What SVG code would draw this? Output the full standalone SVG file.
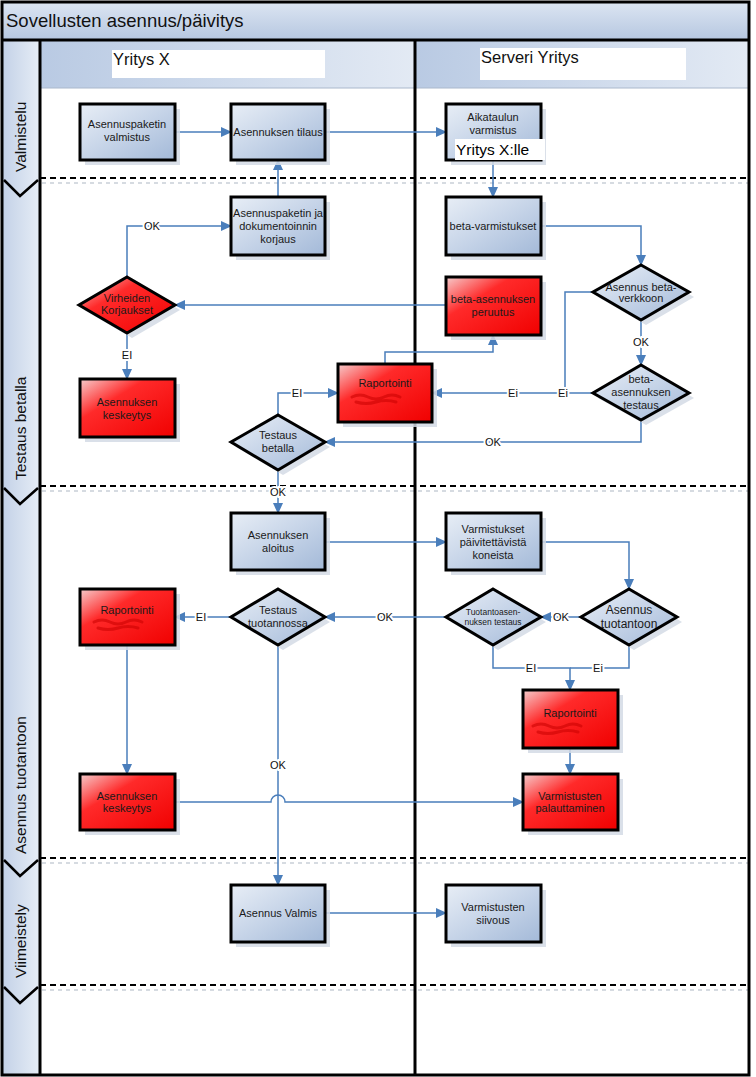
<svg xmlns="http://www.w3.org/2000/svg" width="756" height="1077" viewBox="0 0 756 1077">
<style>
.box{stroke:#000;stroke-width:3}
.blue{fill:url(#gb)}
.red{fill:url(#gr)}
.sh{fill:#d3dae5;opacity:.85}
.t{font-family:"Liberation Sans",Arial,sans-serif;font-size:11px;text-anchor:middle;fill:#1a1a1a}
.c{fill:none;stroke:#4a7ebb;stroke-width:1.5}
.lbl{font-family:"Liberation Sans",Arial,sans-serif;font-size:11px;text-anchor:middle;fill:#111;stroke:#fff;stroke-width:4;paint-order:stroke}
.dash{stroke:#000;stroke-width:2.2;stroke-dasharray:6 4}
.dash2{stroke:#c9cfd8;stroke-width:1.5;stroke-dasharray:4 4}
.lane{stroke:#000;stroke-width:3}
.ph{font-family:"Liberation Sans",Arial,sans-serif;font-size:15.5px;fill:#111}
.hd{font-family:"Liberation Sans",Arial,sans-serif;font-size:16.5px;fill:#111}
.scr{fill:none;stroke:#c80000;stroke-width:3;opacity:.55;stroke-linecap:round}
</style>
<defs>
<linearGradient id="gb" x1="0" y1="0" x2="1" y2="1">
<stop offset="0" stop-color="#e8eef6"/>
<stop offset="0.5" stop-color="#c6d4e8"/>
<stop offset="1" stop-color="#a3b9d8"/>
</linearGradient>
<linearGradient id="gr" x1="0" y1="0" x2="1" y2="1">
<stop offset="0" stop-color="#f6cccc"/>
<stop offset="0.35" stop-color="#ff2a2a"/>
<stop offset="1" stop-color="#f00000"/>
</linearGradient>
<linearGradient id="gt" x1="0" y1="0" x2="0" y2="1">
<stop offset="0" stop-color="#dce5f2"/>
<stop offset="1" stop-color="#b7c8e1"/>
</linearGradient>
<linearGradient id="gh" x1="0" y1="0" x2="1" y2="0">
<stop offset="0" stop-color="#b9cae3"/>
<stop offset="1" stop-color="#e3eaf4"/>
</linearGradient>
<linearGradient id="gp" x1="0" y1="0" x2="1" y2="0">
<stop offset="0" stop-color="#c3d1e7"/>
<stop offset="1" stop-color="#e6edf6"/>
</linearGradient>
<marker id="ar" markerUnits="userSpaceOnUse" markerWidth="11" markerHeight="10" refX="10" refY="5" orient="auto">
<path d="M0,0 L11,5 L0,10 z" fill="#4a7ebb"/>
</marker>
</defs>

<!-- frame -->
<g id="frame">
<rect x="0" y="0" width="756" height="1077" fill="#fff"/>
<rect x="2" y="2" width="747" height="37" fill="url(#gt)"/>
<text x="6" y="27" font-family="Liberation Sans,Arial,sans-serif" font-size="18.5" fill="#111">Sovellusten asennus/päivitys</text>
<rect x="2" y="40" width="38" height="1035" fill="url(#gp)"/>
<rect x="40" y="40" width="375" height="48" fill="url(#gh)"/>
<rect x="415" y="40" width="334" height="48" fill="url(#gh)"/>
<line x1="40" y1="88" x2="749" y2="88" stroke="#aab8cc" stroke-width="1"/>
<rect x="112" y="50" width="213" height="28" fill="#fff"/>
<text class="hd" x="113" y="65">Yritys X</text>
<rect x="480" y="48" width="206" height="32" fill="#fff"/>
<text class="hd" x="481" y="63">Serveri Yritys</text>
<line class="dash2" x1="42" y1="183" x2="749" y2="183"/>
<line class="dash2" x1="42" y1="491" x2="749" y2="491"/>
<line class="dash2" x1="42" y1="863" x2="749" y2="863"/>
<line class="dash2" x1="42" y1="990" x2="749" y2="990"/>
<line class="dash" x1="40" y1="178" x2="749" y2="178"/>
<line class="dash" x1="40" y1="486" x2="749" y2="486"/>
<line class="dash" x1="40" y1="858" x2="749" y2="858"/>
<line class="dash" x1="40" y1="985" x2="749" y2="985"/>
<polyline points="4,180 20,196 38,180" fill="none" stroke="#000" stroke-width="2.5"/>
<polyline points="4,488 20,504 38,488" fill="none" stroke="#000" stroke-width="2.5"/>
<polyline points="4,860 20,876 38,860" fill="none" stroke="#000" stroke-width="2.5"/>
<polyline points="4,987 20,1003 38,987" fill="none" stroke="#000" stroke-width="2.5"/>
<text class="ph" transform="translate(26,172) rotate(-90)">Valmistelu</text>
<text class="ph" transform="translate(26,480) rotate(-90)">Testaus betalla</text>
<text class="ph" transform="translate(26,854) rotate(-90)">Asennus tuotantoon</text>
<text class="ph" transform="translate(26,978) rotate(-90)">Viimeistely</text>
<line class="lane" x1="40" y1="40" x2="40" y2="1075"/>
<line class="lane" x1="415" y1="40" x2="415" y2="1075"/>
<line class="lane" x1="2" y1="40" x2="749" y2="40"/>
<rect x="2" y="2" width="747" height="1073" fill="none" stroke="#000" stroke-width="3"/>
</g>

<!-- connectors -->
<g id="connectors">
<path class="c" marker-end="url(#ar)" d="M175,132 H231"/>
<path class="c" marker-end="url(#ar)" d="M325,132 H446"/>
<path class="c" marker-end="url(#ar)" d="M493,160 V197"/>
<path class="c" marker-end="url(#ar)" d="M278,197 V160"/>
<path class="c" marker-end="url(#ar)" d="M127,277 V226 H231"/>
<path class="c" marker-end="url(#ar)" d="M541,226 H641 V265"/>
<path class="c" marker-end="url(#ar)" d="M446,305 H175"/>
<path class="c" marker-end="url(#ar)" d="M127,333 V379"/>
<path class="c" marker-end="url(#ar)" d="M641,320 V365"/>
<path class="c" marker-end="url(#ar)" d="M593,393 H432"/>
<path class="c" d="M593,292 H565 V393"/>
<path class="c" marker-end="url(#ar)" d="M385,364 V352 H493 V335"/>
<path class="c" marker-end="url(#ar)" d="M278,415 V393 H338"/>
<path class="c" marker-end="url(#ar)" d="M641,420 V442 H325"/>
<path class="c" marker-end="url(#ar)" d="M278,470 V513"/>
<path class="c" marker-end="url(#ar)" d="M325,542 H446"/>
<path class="c" marker-end="url(#ar)" d="M541,542 H629 V589"/>
<path class="c" marker-end="url(#ar)" d="M581,617 H541"/>
<path class="c" marker-end="url(#ar)" d="M446,617 H325"/>
<path class="c" marker-end="url(#ar)" d="M231,617 H175"/>
<path class="c" marker-end="url(#ar)" d="M493,645 V668 H570 V690"/>
<path class="c" d="M629,645 V668 H570"/>
<path class="c" marker-end="url(#ar)" d="M570,748 V774"/>
<path class="c" marker-end="url(#ar)" d="M127,645 V774"/>
<path class="c" marker-end="url(#ar)" d="M175,802 H271 A7,7 0 0 1 285,802 H523"/>
<path class="c" marker-end="url(#ar)" d="M278,645 V885"/>
<path class="c" marker-end="url(#ar)" d="M325,913 H446"/>
<text class="lbl" x="152" y="230">OK</text>
<text class="lbl" x="127" y="359">EI</text>
<text class="lbl" x="641" y="346">OK</text>
<text class="lbl" x="513" y="397">Ei</text>
<text class="lbl" x="563" y="397">Ei</text>
<text class="lbl" x="297" y="397">EI</text>
<text class="lbl" x="493" y="446">OK</text>
<text class="lbl" x="278" y="496">OK</text>
<text class="lbl" x="561" y="621">OK</text>
<text class="lbl" x="385" y="621">OK</text>
<text class="lbl" x="201" y="621">EI</text>
<text class="lbl" x="531" y="672">EI</text>
<text class="lbl" x="598" y="672">Ei</text>
<text class="lbl" x="278" y="769">OK</text>
</g>

<g id="n1"><rect class="sh" x="85" y="109" width="95" height="56"/><rect class="box blue" x="80" y="104" width="95" height="56"/><text class="t" x="127" y="128">Asennuspaketin</text><text class="t" x="127" y="141">valmistus</text></g>
<g id="n2"><rect class="sh" x="236" y="109" width="94" height="56"/><rect class="box blue" x="231" y="104" width="94" height="56"/><text class="t" x="278" y="136">Asennuksen tilaus</text></g>
<g id="n3"><rect class="sh" x="451" y="109" width="95" height="56"/><rect class="box blue" x="446" y="104" width="95" height="56"/><text class="t" x="493" y="121">Aikataulun</text><text class="t" x="493" y="134">varmistus</text><rect x="455" y="139" width="90" height="21" fill="#fff"/><text x="456" y="155" font-family="Liberation Sans,Arial,sans-serif" font-size="15.5" fill="#000">Yritys X:lle</text></g>
<g id="n4"><rect class="sh" x="236" y="202" width="94" height="58"/><rect class="box blue" x="231" y="197" width="94" height="58"/><text class="t" x="278" y="217">Asennuspaketin ja</text><text class="t" x="278" y="230">dokumentoinnin</text><text class="t" x="278" y="243">korjaus</text></g>
<g id="n5"><rect class="sh" x="451" y="202" width="95" height="58"/><rect class="box blue" x="446" y="197" width="95" height="58"/><text class="t" x="493" y="230">beta-varmistukset</text></g>
<g id="n6"><polygon class="sh" points="132,282 180,310 132,338 84,310"/><polygon class="box red" points="127,277 175,305 127,333 79,305"/><text class="t" x="127" y="302">Virheiden</text><text class="t" x="127" y="314">Korjaukset</text></g>
<g id="n7"><rect class="sh" x="451" y="282" width="95" height="58"/><rect class="box red" x="446" y="277" width="95" height="58"/><text class="t" x="493" y="303">beta-asennuksen</text><text class="t" x="493" y="316">peruutus</text></g>
<g id="n8"><polygon class="sh" points="646,270 694,297 646,325 598,297"/><polygon class="box blue" points="641,265 689,292 641,320 593,292"/><text class="t" x="641" y="291">Asennus beta-</text><text class="t" x="641" y="302">verkkoon</text></g>
<g id="n9"><rect class="sh" x="343" y="369" width="94" height="58"/><rect class="box red" x="338" y="364" width="94" height="58"/><text class="t" x="385" y="387">Raportointi</text><path class="scr" d="M352,397 q8,-4 16,0 t16,0 t16,0 M356,402 q10,3 20,0 t20,0"/></g>
<g id="n10"><rect class="sh" x="85" y="384" width="95" height="58"/><rect class="box red" x="80" y="379" width="95" height="58"/><text class="t" x="127" y="406">Asennuksen</text><text class="t" x="127" y="419">keskeytys</text></g>
<g id="n11"><polygon class="sh" points="646,370 694,398 646,425 598,398"/><polygon class="box blue" points="641,365 689,393 641,420 593,393"/><text class="t" x="641" y="383">beta-</text><text class="t" x="641" y="396">asennuksen</text><text class="t" x="641" y="409">testaus</text></g>
<g id="n12"><polygon class="sh" points="283,420 330,447 283,475 236,447"/><polygon class="box blue" points="278,415 325,442 278,470 231,442"/><text class="t" x="278" y="439">Testaus</text><text class="t" x="278" y="452">betalla</text></g>
<g id="n13"><rect class="sh" x="236" y="518" width="94" height="57"/><rect class="box blue" x="231" y="513" width="94" height="57"/><text class="t" x="278" y="539">Asennuksen</text><text class="t" x="278" y="552">aloitus</text></g>
<g id="n14"><rect class="sh" x="451" y="518" width="95" height="57"/><rect class="box blue" x="446" y="513" width="95" height="57"/><text class="t" x="493" y="533">Varmistukset</text><text class="t" x="493" y="546">päivitettävistä</text><text class="t" x="493" y="559">koneista</text></g>
<g id="n15"><rect class="sh" x="85" y="594" width="95" height="56"/><rect class="box red" x="80" y="589" width="95" height="56"/><text class="t" x="127" y="614">Raportointi</text><path class="scr" d="M94,622 q8,-4 16,0 t16,0 t16,0 M98,628 q10,3 20,0 t20,0"/></g>
<g id="n16"><polygon class="sh" points="283,594 330,622 283,650 236,622"/><polygon class="box blue" points="278,589 325,617 278,645 231,617"/><text class="t" x="278" y="614">Testaus</text><text class="t" x="278" y="627">tuotannossa</text></g>
<g id="n17"><polygon class="sh" points="498,594 546,622 498,650 451,622"/><polygon class="box blue" points="493,589 541,617 493,645 446,617"/><text class="t" x="493" y="615" style="font-size:8.5px">Tuotantoasen-</text><text class="t" x="493" y="625" style="font-size:8.5px">nuksen testaus</text></g>
<g id="n18"><polygon class="sh" points="634,594 682,622 634,650 586,622"/><polygon class="box blue" points="629,589 677,617 629,645 581,617"/><text class="t" x="629" y="614" style="font-size:12px">Asennus</text><text class="t" x="629" y="628" style="font-size:12px">tuotantoon</text></g>
<g id="n19"><rect class="sh" x="528" y="695" width="95" height="58"/><rect class="box red" x="523" y="690" width="95" height="58"/><text class="t" x="570" y="717">Raportointi</text><path class="scr" d="M533,726 q8,-4 16,0 t16,0 t16,0 M538,732 q10,3 20,0 t20,0"/></g>
<g id="n20"><rect class="sh" x="85" y="779" width="95" height="56"/><rect class="box red" x="80" y="774" width="95" height="56"/><text class="t" x="127" y="800">Asennuksen</text><text class="t" x="127" y="812">keskeytys</text></g>
<g id="n21"><rect class="sh" x="528" y="779" width="95" height="56"/><rect class="box red" x="523" y="774" width="95" height="56"/><text class="t" x="570" y="800">Varmistusten</text><text class="t" x="570" y="812">palauttaminen</text></g>
<g id="n22"><rect class="sh" x="236" y="890" width="94" height="57"/><rect class="box blue" x="231" y="885" width="94" height="57"/><text class="t" x="278" y="917">Asennus Valmis</text></g>
<g id="n23"><rect class="sh" x="451" y="890" width="95" height="57"/><rect class="box blue" x="446" y="885" width="95" height="57"/><text class="t" x="493" y="911">Varmistusten</text><text class="t" x="493" y="924">siivous</text></g>
</svg>
